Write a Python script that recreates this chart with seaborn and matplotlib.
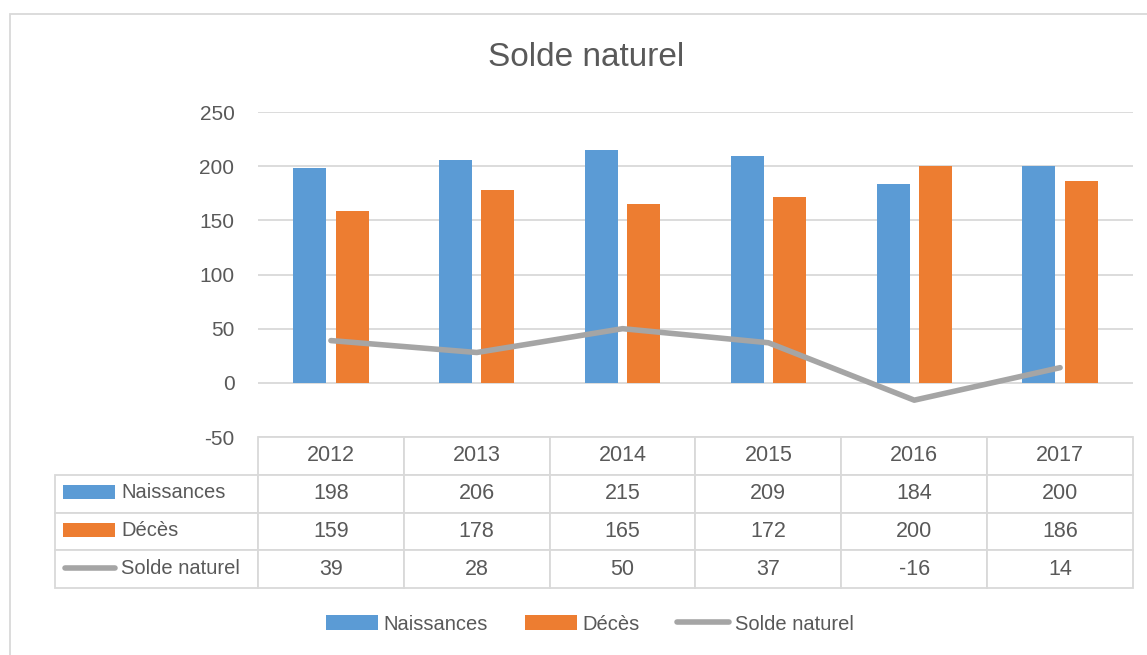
import numpy as np
import pandas as pd
import matplotlib.pyplot as plt
import seaborn as sns
from matplotlib.patches import Rectangle
from matplotlib.lines import Line2D

# Données du graphique
annees = ['2012', '2013', '2014', '2015', '2016', '2017']
naissances = [198, 206, 215, 209, 184, 200]
deces = [159, 178, 165, 172, 200, 186]
solde = [39, 28, 50, 37, -16, 14]

series = ['Naissances', 'Décès', 'Solde naturel']
couleurs = ['#5B9BD5', '#ED7D31', '#A5A5A5']
gris_texte = '#595959'
gris_ligne = '#D9D9D9'

sns.set_theme(style='white')
plt.rcParams['font.family'] = ['Liberation Sans', 'DejaVu Sans']
plt.rcParams['axes.unicode_minus'] = False

W, H = 1147, 655
fig = plt.figure(figsize=(W / 100, H / 100), dpi=100)


def fx(x):
    return x / W


def fy(y):
    return 1 - y / H


# cadre du graphique
fig.add_artist(Rectangle((fx(10), fy(700)), (1300 - 10) / W, (700 - 14) / H,
                         transform=fig.transFigure, fill=False,
                         ec=gris_ligne, lw=1.3))

ax = fig.add_axes([fx(258), fy(437), (1133 - 258) / W, (437 - 112) / H])

df = pd.DataFrame({
    'annee': annees * 2,
    'serie': [series[0]] * len(annees) + [series[1]] * len(annees),
    'valeur': naissances + deces,
})
sns.barplot(data=df, x='annee', y='valeur', hue='serie', palette=couleurs[:2],
            width=0.58, gap=0.22, saturation=1, linewidth=0, legend=False, ax=ax)
sns.lineplot(x=np.arange(len(annees)), y=solde, color=couleurs[2], linewidth=4,
             solid_capstyle='round', ax=ax)

ax.set_xlim(-0.5, len(annees) - 0.5)
ax.set_ylim(-50, 250)
ax.set_yticks(range(-50, 251, 50))
ax.set_xticks([])
ax.set_xlabel('')
ax.set_ylabel('')
ax.yaxis.grid(True, color=gris_ligne, lw=1.3)
ax.set_axisbelow(True)
for s in ax.spines.values():
    s.set_visible(False)
ax.tick_params(axis='y', length=0, pad=17, labelsize=15, labelcolor=gris_texte)

# Tableau de données sous le graphique
cellules = [[''] + [str(v) for v in ligne] for ligne in (naissances, deces, solde)]
larg = 1133 - 55
tab = ax.table(cellText=cellules, colLabels=[''] + annees, cellLoc='center',
               colWidths=[203] + [146] * len(annees),
               bbox=[(55 - 258) / 875, -(588 - 437) / 325, larg / 875, (588 - 437) / 325])
tab.auto_set_font_size(False)
tab.set_fontsize(15.5)
for (r, c), cell in tab.get_celld().items():
    cell.set_edgecolor(gris_ligne)
    cell.set_linewidth(1.3)
    cell.get_text().set_color(gris_texte)
    if r == 0 and c == 0:
        cell.visible_edges = ''

# Libellés des lignes avec leurs clés
y_lignes = [492, 530, 568]
for i, (nom, y) in enumerate(zip(series, y_lignes)):
    if i < 2:
        fig.add_artist(Rectangle((fx(63), fy(y + 7)), 52 / W, 14 / H,
                                 transform=fig.transFigure, fc=couleurs[i], ec='none'))
    else:
        fig.add_artist(Line2D([fx(65), fx(115)], [fy(y), fy(y)], transform=fig.transFigure,
                              color=couleurs[i], lw=4, solid_capstyle='round'))
    fig.text(fx(121), fy(y), nom, fontsize=14.5, color=gris_texte, ha='left', va='center')

fig.text(fx(586), fy(57), 'Solde naturel', fontsize=24, color=gris_texte,
         ha='center', va='center')

poignees = [Rectangle((0, 0), 1, 1, fc=couleurs[0], ec='none'),
            Rectangle((0, 0), 1, 1, fc=couleurs[1], ec='none'),
            Line2D([], [], color=couleurs[2], lw=4, solid_capstyle='round')]
fig.legend(handles=poignees, labels=series, loc='center',
           bbox_to_anchor=(fx(590), fy(624)), ncol=3, frameon=False,
           fontsize=14.5, handlelength=2.55, handleheight=0.7, handletextpad=0.3,
           columnspacing=1.85, labelcolor=gris_texte)

fig.savefig('out.png', dpi=100)
